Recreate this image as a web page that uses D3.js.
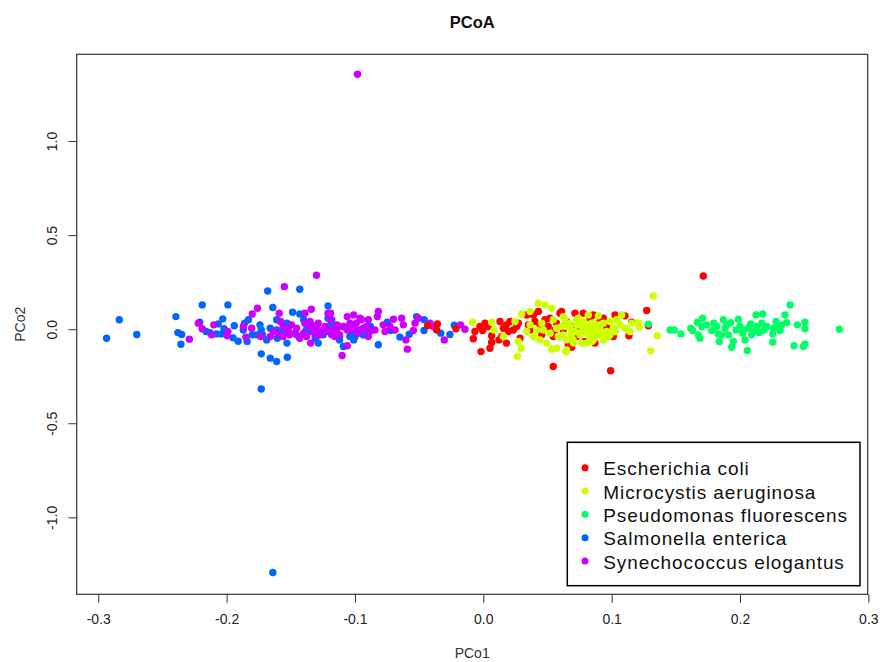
<!DOCTYPE html>
<html>
<head>
<meta charset="utf-8">
<script src="https://cdn.jsdelivr.net/npm/d3@7"></script>
<style>
  html, body { margin: 0; padding: 0; background: #fff; }
  svg { display: block; font-family: "Liberation Sans", Arial, sans-serif; }
</style>
</head>
<body>
<svg id="chart" width="882" height="662"></svg>
<script>
// ---------------- DATA ----------------
const species = ["Escherichia coli", "Microcystis aeruginosa", "Pseudomonas fluorescens", "Salmonella enterica", "Synechococcus elogantus"];
const speciesColors = ["#FF0000", "#CCFF00", "#00FF66", "#0066FF", "#CC00FF"];

const xTickValues = [-0.3, -0.2, -0.1, 0.0, 0.1, 0.2, 0.3];
const xTickLabels = ["-0.3", "-0.2", "-0.1", "0.0", "0.1", "0.2", "0.3"];
const yTickValues = [-1.0, -0.5, 0.0, 0.5, 1.0];
const yTickLabels = ["-1.0", "-0.5", "0.0", "0.5", "1.0"];

// Salmonella enterica (blue)
const salX = [-0.2935,-0.2836,-0.270,-0.2395,-0.238,-0.235,-0.2356,-0.219,-0.199,-0.168,-0.143,-0.164,-0.121,-0.203,-0.2065,-0.202,-0.208,-0.204,-0.194,-0.195,-0.191,-0.187,-0.183,-0.186,-0.180,-0.184,-0.174,-0.173,-0.172,-0.166,-0.161,-0.1605,-0.153,-0.1486,-0.143,-0.140,-0.161,-0.153,-0.138,-0.130,-0.1286,-0.121,-0.119,-0.117,-0.112,-0.109,-0.104,-0.101,-0.0935,-0.173,-0.166,-0.161,-0.1527,-0.173,-0.216,-0.213,-0.221,-0.164,
  -0.0748,-0.0722,-0.0818,-0.065,-0.0577,-0.052,-0.046,-0.0462,-0.0332,-0.026,-0.0226,
  -0.1558,-0.1455,-0.1338,-0.1247,-0.1143,-0.1000,-0.0909,-0.1766,-0.1688,
  -0.136,-0.131,-0.125,-0.118,-0.112,-0.104,-0.100,-0.0935,-0.088];
const salY = [-0.048,0.050,-0.028,0.067,-0.018,-0.028,-0.080,0.129,0.129,0.203,0.212,0.115,0.124,0.055,0.028,0.002,-0.025,-0.025,0.018,-0.046,-0.064,-0.004,0.050,0.032,-0.030,-0.065,0.023,-0.004,-0.030,0.005,-0.004,-0.048,-0.074,0.090,0.081,0.050,0.050,0.032,-0.004,-0.039,-0.074,0.058,0.023,-0.012,-0.039,-0.092,-0.039,-0.057,-0.030,-0.131,-0.154,-0.172,-0.149,-0.318,-0.012,-0.018,0.037,-1.293,
  0.037,-0.007,-0.083,-0.042,-0.027,0.067,0.050,-0.007,-0.021,-0.028,0.021,
  -0.012,-0.030,0.023,-0.030,0.014,-0.004,-0.012,-0.030,-0.057,
  -0.012,-0.048,-0.004,0.050,-0.057,0.014,-0.039,-0.030,0.014];

// Synechococcus elogantus (purple)
const synX = [-0.130,-0.155,-0.176,-0.180,-0.134,-0.159,-0.139,-0.222,-0.219,-0.210,-0.2117,-0.199,-0.1995,-0.229,-0.187,-0.1805,-0.185,-0.1735,-0.166,-0.156,-0.158,-0.152,-0.151,-0.1455,-0.143,-0.135,-0.1345,-0.125,-0.121,-0.119,-0.113,-0.106,-0.101,-0.099,-0.096,-0.0896,-0.091,-0.110,-0.106,-0.156,-0.140,-0.1286,-0.1156,-0.1026,-0.0953,
  -0.098,
  -0.0818,-0.0826,-0.078,-0.0766,-0.0727,-0.070,-0.0636,-0.0623,-0.0603,-0.0592,-0.0532,-0.0506,-0.0545,-0.0416,-0.039,-0.0304,-0.0177,-0.0143,-0.0844,-0.0688,
  -0.1636,-0.1597,-0.1494,-0.1468,-0.1377,-0.1325,-0.1273,-0.1234,-0.1182,-0.1143,-0.1091,-0.1039,-0.0974,-0.0935,-0.0883,
  -0.139,-0.135,-0.130,-0.127,-0.123,-0.121,-0.119,-0.117,-0.114,-0.109,-0.106,-0.101,-0.097,-0.095,-0.091,-0.0896,-0.131,-0.112];
const synY = [0.287,0.226,0.111,0.081,0.106,0.085,0.085,0.032,0.002,0.023,-0.030,-0.012,-0.035,-0.053,0.014,0.005,-0.042,-0.039,-0.039,0.014,0.041,-0.004,-0.030,0.005,-0.048,0.014,-0.074,-0.004,-0.012,0.085,0.014,0.067,0.076,0.032,0.058,0.050,0.014,-0.140,-0.088,-0.039,-0.021,0.032,-0.039,-0.004,-0.004,
  1.355,
  0.094,0.067,0.023,-0.012,0.014,0.053,0.058,0.023,-0.057,-0.106,0.032,0.058,-0.007,0.032,0.014,-0.057,0.023,0.000,-0.004,-0.004,
  -0.012,-0.025,0.023,-0.021,-0.039,-0.012,-0.030,0.014,-0.030,-0.012,0.014,0.032,-0.021,0.005,-0.012,
  0.032,0.041,0.014,-0.012,0.005,0.085,0.050,-0.004,0.023,0.014,-0.004,0.023,-0.004,0.050,0.014,-0.039,-0.030,-0.030];

// Escherichia coli (red)
const ecoX = [-0.0434,-0.0358,-0.0364,-0.0213,-0.0078,-0.0065,-0.0026,-0.0005,0.0013,0.0039,0.0065,0.0052,-0.0018,0.013,0.0156,0.018,0.0195,0.0208,0.0234,0.026,0.0273,0.0286,0.0338,0.039,0.035,0.0364,0.0429,0.0442,0.048,0.0506,0.0545,0.0143,0.0065,0.018,0.0122,0.057,0.0545,0.0597,
  0.0403,0.0455,0.0520,0.0558,
  0.061,0.0714,0.0779,0.0857,0.0935,0.1026,0.1104,0.1273,0.1156,0.1286,0.1135,0.0688,0.0662,0.0992,0.1714,0.0909,0.0961,0.1013,0.0753,0.0831,0.0623,0.079,0.0727,0.0870,
  0.0649,0.0688,0.0831];
const ecoY = [0.019,0.028,-0.004,0.002,-0.051,-0.012,0.014,-0.007,0.032,0.014,-0.071,-0.101,-0.119,0.041,0.005,0.023,-0.012,0.041,-0.004,0.014,0.032,-0.048,0.076,0.076,0.023,-0.004,0.094,0.014,0.050,0.014,-0.198,-0.039,-0.035,-0.074,-0.057,0.032,-0.039,0.085,
  0.041,-0.030,0.058,-0.004,
  0.094,0.085,0.085,0.076,0.058,0.076,0.071,0.099,0.037,0.018,-0.035,-0.096,-0.083,-0.221,0.283,0.041,0.014,-0.039,0.014,-0.004,-0.004,-0.065,-0.039,-0.074,
  0.041,0.014,0.058];

// Microcystis aeruginosa (yellow-green)
const micX = [-0.0083,0.0065,0.0083,0.0156,0.0247,0.0273,0.0294,0.0265,0.0299,0.0364,0.0429,0.048,0.0532,0.039,0.0442,0.0468,0.052,0.0545,0.0571,0.0532,0.0571,0.0338,0.0416,0.0494,0.0584,0.0364,0.0455,
  0.0636,0.0675,0.0714,0.0649,0.0623,0.0740,0.0818,0.0896,0.0857,0.0805,0.0753,0.0831,0.0909,0.0961,0.0987,0.1039,0.1078,0.1013,0.0935,0.0844,0.0766,0.0701,0.0644,0.1143,0.1156,0.1208,0.1216,0.1325,0.1356,0.1304,0.061,0.0779,0.0883,0.0922,0.0857,0.0974,
  0.0662,0.0727,0.0779,0.0688,0.0844,0.0896,0.0935,0.0987,0.1026,0.1065,0.1104,0.0753,0.0870,
  0.0623,0.0649,0.0688,0.0727,0.0766,0.0805,0.0844,0.0883,0.0649,0.0701,0.0805,0.0857];
const micY = [0.037,0.037,-0.004,-0.039,0.041,-0.065,-0.101,-0.145,0.081,0.094,0.138,0.129,0.111,-0.039,-0.057,-0.004,-0.021,0.050,0.005,-0.106,-0.101,-0.012,-0.004,-0.074,-0.039,0.023,0.032,
  0.050,0.014,-0.012,-0.057,-0.030,0.058,0.076,0.071,0.032,0.014,-0.030,-0.048,-0.012,-0.012,0.041,0.050,0.076,0.005,-0.057,-0.065,-0.074,-0.074,-0.119,-0.012,0.032,0.035,0.011,0.177,-0.034,-0.115,0.014,0.041,0.005,-0.039,-0.021,-0.039,
  0.032,0.023,-0.012,-0.030,0.005,0.023,0.032,-0.030,-0.012,0.023,0.005,0.041,-0.039,
  0.067,0.014,-0.012,0.050,0.014,-0.021,0.032,-0.004,-0.110,-0.057,-0.074,-0.057];

// Pseudomonas fluorescens (green)
const psfX = [0.1286,0.1455,0.1488,0.1540,0.1616,0.1631,0.1668,0.1709,0.1701,0.1688,0.1779,0.1797,0.1818,0.1831,0.1839,0.1870,0.1883,0.1909,0.1927,0.1935,0.1948,0.1969,0.1987,0.200,0.2021,0.2039,0.2057,0.2065,0.2083,0.2104,0.2125,0.2130,0.2151,0.2177,0.2169,0.2187,0.2255,0.2255,0.2281,0.2299,0.2312,0.2351,0.2364,0.2390,0.2447,0.2506,0.2506,0.2421,0.2494,0.2506,0.2774,0.1675,0.1740,0.1857,0.1896,0.2026,0.2091,0.2208,0.2325,0.2260];
const psfY = [0.027,-0.004,-0.004,-0.025,0.005,-0.007,0.037,0.058,0.014,-0.048,-0.007,0.032,0.014,-0.025,-0.065,0.050,0.005,-0.030,0.035,-0.096,-0.065,-0.004,0.053,0.014,-0.021,-0.057,-0.113,0.005,0.028,-0.012,0.076,0.014,-0.018,0.081,0.032,-0.004,-0.025,-0.069,0.041,0.014,-0.007,0.076,0.035,0.129,0.023,0.037,0.002,-0.088,-0.092,-0.078,0.000,-0.030,0.023,-0.030,0.023,-0.004,-0.030,0.014,0.023,0.005];

const xlim = [-0.3168, 0.2995];
const ylim = [-1.409, 1.461];

// ---------------- DRAW ----------------
const svg = d3.select("#chart");
const plot = { left: 76.7, right: 867.7, top: 54.3, bottom: 594.3 };

const x = d3.scaleLinear().domain(xlim).range([plot.left, plot.right]);
const y = d3.scaleLinear().domain(ylim).range([plot.bottom, plot.top]);

svg.append("rect").attr("width", 882).attr("height", 662).attr("fill", "#fff");

// points (draw order: blue, purple, red, yellow, green)
const groups = [
  { xs: salX, ys: salY, color: speciesColors[3] },
  { xs: synX, ys: synY, color: speciesColors[4] },
  { xs: ecoX, ys: ecoY, color: speciesColors[0] },
  { xs: micX, ys: micY, color: speciesColors[1] },
  { xs: psfX, ys: psfY, color: speciesColors[2] }
];
const pts = svg.append("g");
groups.forEach(g => {
  const data = g.xs.map((v, i) => [v, g.ys[i]]);
  pts.selectAll(null).data(data).enter().append("circle")
    .attr("cx", d => x(d[0])).attr("cy", d => y(d[1]))
    .attr("r", 3.7).attr("fill", g.color);
});

// axes
const xAxis = d3.axisBottom(x).tickValues(xTickValues).tickSize(8.5)
  .tickFormat((d, i) => xTickLabels[i]);
const gx = svg.append("g").attr("transform", `translate(0,${plot.bottom})`).call(xAxis);
gx.select(".domain").remove();
gx.selectAll(".tick line").attr("stroke", "#333");
gx.selectAll(".tick text").attr("y", 29.5).attr("dy", 0)
  .attr("font-size", 14).attr("fill", "#222")
  .attr("font-family", "'Liberation Sans', Arial, sans-serif");

const yAxis = d3.axisLeft(y).tickValues(yTickValues).tickSize(8.3)
  .tickFormat((d, i) => yTickLabels[i]);
const gy = svg.append("g").attr("transform", `translate(${plot.left},0)`).call(yAxis);
gy.select(".domain").remove();
gy.selectAll(".tick line").attr("stroke", "#333");
gy.selectAll(".tick text").attr("x", 0).attr("y", 0).attr("dy", 0)
  .attr("text-anchor", "middle")
  .attr("transform", "translate(-19.5,0) rotate(-90)")
  .attr("font-size", 14).attr("fill", "#222")
  .attr("font-family", "'Liberation Sans', Arial, sans-serif");

// frame box
svg.append("rect")
  .attr("x", plot.left).attr("y", plot.top)
  .attr("width", plot.right - plot.left).attr("height", plot.bottom - plot.top)
  .attr("fill", "none").attr("stroke", "#333").attr("stroke-width", 1.2);

// titles
svg.append("text").attr("x", (plot.left + plot.right) / 2).attr("y", 27.5)
  .attr("text-anchor", "middle").attr("font-weight", "bold").attr("font-size", 16.5)
  .attr("fill", "#111").text("PCoA");
svg.append("text").attr("x", (plot.left + plot.right) / 2).attr("y", 658)
  .attr("text-anchor", "middle").attr("font-size", 14).attr("fill", "#333").text("PCo1");
svg.append("text").attr("transform", `translate(25,${(plot.top + plot.bottom) / 2}) rotate(-90)`)
  .attr("text-anchor", "middle").attr("font-size", 14).attr("fill", "#333").text("PCo2");

// legend
const lg = svg.append("g");
lg.append("rect").attr("x", 567.3).attr("y", 442.3).attr("width", 292.7).attr("height", 143.4)
  .attr("fill", "#fff").attr("stroke", "#000").attr("stroke-width", 1.5);
species.forEach((s, i) => {
  lg.append("circle").attr("cx", 585).attr("cy", 467.7 + i * 23.33).attr("r", 3.5)
    .attr("fill", speciesColors[i]);
  lg.append("text").attr("x", 603.3).attr("y", 475.3 + i * 23.33)
    .attr("font-size", 19).attr("letter-spacing", "0.9px").attr("fill", "#111").text(s);
});
</script>
</body>
</html>
